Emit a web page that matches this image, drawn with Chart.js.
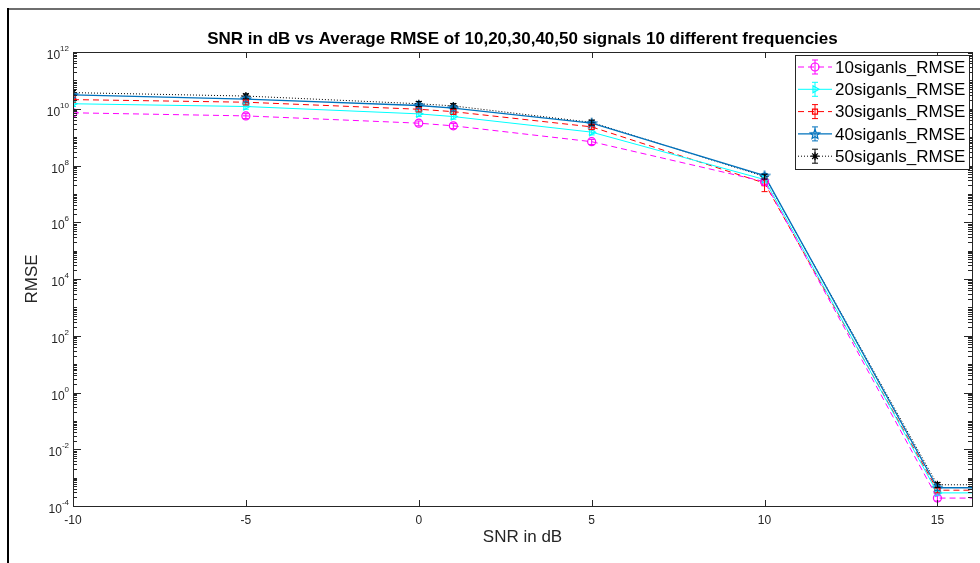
<!DOCTYPE html>
<html>
<head>
<meta charset="utf-8">
<script src="https://cdn.jsdelivr.net/npm/chart.js@4.4.0/dist/chart.umd.min.js"></script>
<style>
body { margin: 0; background: #fff; }
.wrap { position: relative; width: 980px; height: 563px; }
.frame-top { position: absolute; left: 7px; top: 8px; width: 973px; height: 2px; background: #6e6e6e; }
.frame-left { position: absolute; left: 7px; top: 8px; width: 2px; height: 555px; background: #000; }
</style>
</head>
<body>
<div class="wrap">
    <canvas id="myChart" width="980" height="563"></canvas>
    <div class="frame-top"></div>
    <div class="frame-left"></div>
</div>
<script>
// SNR values (dB); the last point only carries the flat tail past the axis
var snr = [-10, -5, 0, 1, 5, 10, 15, 20];
var xTicks = [-10, -5, 0, 5, 10, 15];
var yTicks = [1e-4, 1e-2, 1e0, 1e2, 1e4, 1e6, 1e8, 1e10, 1e12];
var yTickExp = ['-4', '-2', '0', '2', '4', '6', '8', '10', '12'];

var names = ['10siganls_RMSE', '20siganls_RMSE', '30siganls_RMSE', '40siganls_RMSE', '50siganls_RMSE'];

var rmse10 = [7.2e9, 5.6e9, 3.1e9, 2.5e9, 6.9e8, 2.7e7, 1.9e-4, 1.9e-4];
var rmse20 = [1.5e10, 1.2e10, 6.6e9, 5.3e9, 1.5e9, 3.2e7, 2.9e-4, 2.9e-4];
var rmse30 = [2.1e10, 1.7e10, 9.6e9, 7.9e9, 2.3e9, 2.4e7, 3.6e-4, 3.6e-4];
var rmse40 = [3.1e10, 2.2e10, 1.3e10, 1.05e10, 3.1e9, 4.4e7, 4.4e-4, 4.4e-4];
var rmse50 = [3.7e10, 2.8e10, 1.5e10, 1.26e10, 3.3e9, 4.1e7, 5.6e-4, 5.6e-4];

// error bar half widths
var err10 = [1.5e9, 1.1e9, 6e8, 5e8, 1.4e8, 5e6, 4e-5, 0];
var err20 = [3e9, 2.4e9, 1.3e9, 1e9, 3e8, 6e6, 5e-5, 0];
var err30 = [4e9, 3.4e9, 1.9e9, 1.6e9, 4.6e8, 1.2e7, 7e-5, 0];
var err40 = [6e9, 4.4e9, 2.6e9, 2.1e9, 6e8, 8e6, 9e-5, 0];
var err50 = [7e9, 5.6e9, 3e9, 2.5e9, 6.6e8, 8e6, 1.1e-4, 0];

var axisColor = '#262626';
var font = "'Liberation Sans', Arial, sans-serif";

function makeStar(color) {
    var c = document.createElement('canvas');
    c.width = 12; c.height = 12;
    var g = c.getContext('2d');
    g.strokeStyle = color;
    g.lineWidth = 1.2;
    g.beginPath();
    for (var i = 0; i < 10; i++) {
        var r = i % 2 == 0 ? 5 : 2.2;
        var ang = -Math.PI / 2 + i * Math.PI / 5;
        var px = 6 + r * Math.cos(ang), py = 6.5 + r * Math.sin(ang);
        if (i == 0) g.moveTo(px, py); else g.lineTo(px, py);
    }
    g.closePath();
    g.stroke();
    return c;
}

function pts(arr) {
    var out = [];
    for (var i = 0; i < arr.length; i++) out.push({ x: snr[i], y: arr[i] });
    return out;
}

var datasets = [
    { label: names[0], data: pts(rmse10), err: err10, borderColor: '#ff00ff', borderDash: [6, 4],
      pointStyle: 'circle', pointRadius: 4 },
    { label: names[1], data: pts(rmse20), err: err20, borderColor: '#00ffff', borderDash: [],
      pointStyle: 'triangle', pointRotation: 90, pointRadius: 4 },
    { label: names[2], data: pts(rmse30), err: err30, borderColor: '#ff0000', borderDash: [6, 4],
      pointStyle: 'rect', pointRadius: 3.5 },
    { label: names[3], data: pts(rmse40), err: err40, borderColor: '#0072bd', borderDash: [],
      pointStyle: makeStar('#0072bd'), pointRadius: 5 },
    { label: names[4], data: pts(rmse50), err: err50, borderColor: '#000000', borderDash: [1, 2],
      pointStyle: 'star', pointRadius: 4 }
];
datasets.forEach(function (d) {
    d.backgroundColor = 'rgba(0,0,0,0)';
    d.pointBorderColor = d.borderColor;
    d.pointBackgroundColor = 'rgba(0,0,0,0)';
    d.borderWidth = d.borderColor == '#0072bd' ? 1.3 : 1;
    d.pointBorderWidth = 1.2;
    d.tension = 0;
});

var errorBars = {
    id: 'errorBars',
    afterDatasetsDraw: function (chart) {
        var ctx = chart.ctx, ys = chart.scales.y, a = chart.chartArea;
        ctx.save();
        ctx.beginPath();
        ctx.rect(a.left, a.top, a.right - a.left, a.bottom - a.top);
        ctx.clip();
        chart.data.datasets.forEach(function (d, di) {
            var meta = chart.getDatasetMeta(di);
            ctx.strokeStyle = d.borderColor;
            ctx.lineWidth = 1;
            ctx.setLineDash([]);
            meta.data.forEach(function (p, i) {
                var e = d.err[i];
                if (!e) return;
                var v = d.data[i].y;
                var lo = v - e > 0 ? v - e : v * 0.5;
                var y1 = ys.getPixelForValue(v + e), y2 = ys.getPixelForValue(lo);
                ctx.beginPath();
                ctx.moveTo(p.x, y1); ctx.lineTo(p.x, y2);
                ctx.moveTo(p.x - 3, y1); ctx.lineTo(p.x + 3, y1);
                ctx.moveTo(p.x - 3, y2); ctx.lineTo(p.x + 3, y2);
                ctx.stroke();
            });
        });
        ctx.restore();
    }
};

var matlabAxes = {
    id: 'matlabAxes',
    afterDraw: function (chart) {
        var ctx = chart.ctx, a = chart.chartArea;
        var xs = chart.scales.x, ys = chart.scales.y;
        ctx.save();
        ctx.strokeStyle = axisColor;
        ctx.lineWidth = 1;
        ctx.setLineDash([]);
        ctx.strokeRect(Math.round(a.left) + 0.5, Math.round(a.top) + 0.5,
            Math.round(a.right - a.left), Math.round(a.bottom - a.top));
        ctx.beginPath();
        xTicks.forEach(function (v) {
            var px = Math.round(xs.getPixelForValue(v)) + 0.5;
            ctx.moveTo(px, a.bottom); ctx.lineTo(px, a.bottom - 6);
            ctx.moveTo(px, a.top); ctx.lineTo(px, a.top + 6);
        });
        for (var e = -4; e <= 12; e++) {
            for (var k = 1; k < 10; k++) {
                if (e == 12 && k > 1) break;
                var py = Math.round(ys.getPixelForValue(k * Math.pow(10, e))) + 0.5;
                var len = (k == 1 && e % 2 == 0) ? 8 : 4;
                ctx.moveTo(a.left, py); ctx.lineTo(a.left + len, py);
                ctx.moveTo(a.right, py); ctx.lineTo(a.right - len, py);
            }
        }
        ctx.stroke();

        // y tick labels as 10 with a raised exponent
        ctx.fillStyle = axisColor;
        ctx.textBaseline = 'alphabetic';
        yTicks.forEach(function (v, i) {
            var py = ys.getPixelForValue(v);
            ctx.font = '8px ' + font;
            var ew = ctx.measureText(yTickExp[i]).width;
            ctx.textAlign = 'left';
            ctx.fillText(yTickExp[i], a.left - 4 - ew, py - 1);
            ctx.font = '12px ' + font;
            ctx.textAlign = 'right';
            ctx.fillText('10', a.left - 4 - ew, py + 7);
        });

        // legend box in the top right corner
        var bx = 795, by = 55, bw = a.right - 3 - bx, bh = 114;
        ctx.fillStyle = '#fff';
        ctx.fillRect(bx, by, bw, bh);
        ctx.strokeRect(bx + 0.5, by + 0.5, bw, bh);
        ctx.font = '17px ' + font;
        ctx.textAlign = 'left';
        ctx.textBaseline = 'middle';
        chart.data.datasets.forEach(function (d, i) {
            var y = 67 + i * 22.3;
            ctx.strokeStyle = d.borderColor;
            ctx.lineWidth = d.borderWidth;
            ctx.setLineDash(d.borderDash);
            ctx.beginPath();
            ctx.moveTo(798, y); ctx.lineTo(832, y);
            ctx.stroke();
            ctx.setLineDash([]);
            ctx.lineWidth = 1;
            ctx.beginPath();
            ctx.moveTo(815, y - 7); ctx.lineTo(815, y + 7);
            ctx.moveTo(812, y - 7); ctx.lineTo(818, y - 7);
            ctx.moveTo(812, y + 7); ctx.lineTo(818, y + 7);
            ctx.stroke();
            ctx.fillStyle = 'rgba(0,0,0,0)';
            ctx.lineWidth = 1.2;
            Chart.helpers.drawPoint(ctx, {
                pointStyle: d.pointStyle, rotation: d.pointRotation || 0,
                radius: d.pointRadius, borderWidth: 1.2
            }, 815, y);
            ctx.fillStyle = '#000';
            ctx.fillText(d.label, 835, y + 1);
        });
        ctx.restore();
    }
};

const ctx = document.getElementById('myChart').getContext('2d');
const myChart = new Chart(ctx, {
    type: 'line',
    data: { datasets: datasets },
    plugins: [errorBars, matlabAxes],
    options: {
        responsive: false,
        animation: false,
        layout: { padding: { left: 0, right: 8, top: 0, bottom: 0 } },
        plugins: {
            legend: { display: false },
            tooltip: { enabled: false },
            title: {
                display: true,
                fullSize: false,
                text: 'SNR in dB vs Average RMSE of 10,20,30,40,50 signals 10 different frequencies',
                color: '#000',
                font: { family: font, size: 17, weight: 'bold' },
                padding: { top: 29, bottom: 2.6 }
            }
        },
        scales: {
            x: {
                type: 'linear',
                min: -10,
                max: 16,
                grid: { display: false, drawTicks: false },
                border: { display: false },
                afterBuildTicks: function (scale) {
                    scale.ticks = xTicks.map(function (v) { return { value: v }; });
                },
                afterFit: function (scale) { scale.height = 57; },
                ticks: { color: axisColor, padding: 7, font: { family: font, size: 12 } },
                title: {
                    display: true, text: 'SNR in dB', color: axisColor,
                    font: { family: font, size: 17 }, padding: { top: 0, bottom: 15 }
                }
            },
            y: {
                type: 'logarithmic',
                min: 1e-4,
                max: 1e12,
                grid: { display: false, drawTicks: false },
                border: { display: false },
                afterBuildTicks: function (scale) {
                    scale.ticks = yTicks.map(function (v) { return { value: v }; });
                },
                afterFit: function (scale) { scale.width = 73; },
                ticks: { display: false },
                title: {
                    display: true, text: 'RMSE', color: axisColor,
                    font: { family: font, size: 17 }, padding: { top: 22, bottom: 0 }
                }
            }
        }
    }
});
</script>
</body>
</html>
